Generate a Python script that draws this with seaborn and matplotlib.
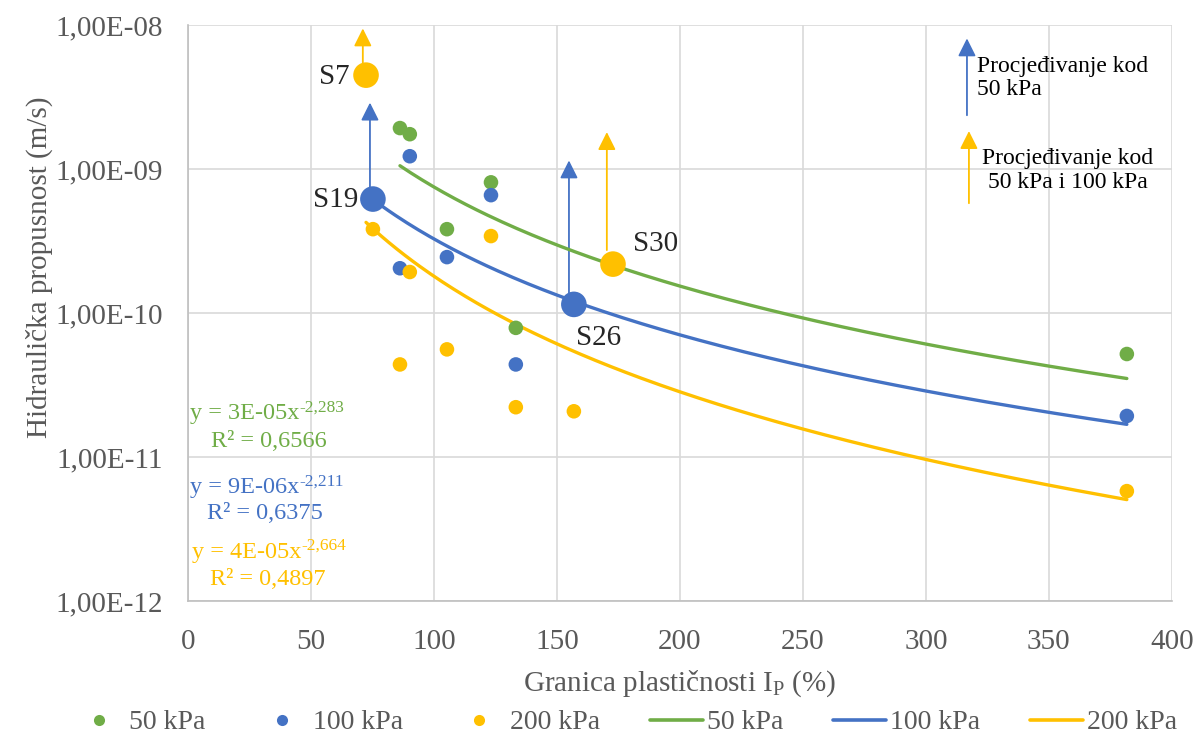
import numpy as np
import pandas as pd
import matplotlib
matplotlib.use("Agg")
import matplotlib.pyplot as plt
from matplotlib.lines import Line2D
from matplotlib.ticker import FixedLocator, FuncFormatter, LogLocator, NullFormatter
import seaborn as sns

# ========== DATA ==========
ip_50 = [86.2, 90.2, 105.3, 123.2, 133.3, 381.7]
k_50 = [1.93e-9, 1.75e-9, 3.83e-10, 8.1e-10, 7.9e-11, 5.2e-11]

ip_100 = [75.2, 86.2, 90.2, 105.3, 123.2, 133.3, 156.9, 381.7]
k_100 = [6.2e-10, 2.05e-10, 1.23e-9, 2.45e-10, 6.6e-10, 4.4e-11, 1.15e-10, 1.93e-11]

ip_200 = [72.4, 75.2, 86.2, 90.2, 105.3, 123.2, 133.3, 156.9, 172.8, 381.7]
k_200 = [4.5e-9, 3.83e-10, 4.4e-11, 1.93e-10, 5.6e-11, 3.43e-10, 2.22e-11, 2.08e-11, 2.19e-10, 5.8e-12]

series_names = ["50 kPa", "100 kPa", "200 kPa"]
colors = ["#70AD47", "#4472C4", "#FFC000"]

# highlighted samples
samples = ["S7", "S19", "S26", "S30"]
sample_series = ["200 kPa", "100 kPa", "100 kPa", "200 kPa"]
sample_ip = [72.4, 75.2, 156.9, 172.8]
sample_k = [4.5e-9, 6.2e-10, 1.15e-10, 2.19e-10]

eq_base = ["y = 3E-05x", "y = 9E-06x", "y = 4E-05x"]
eq_exp = ["-2,283", "-2,211", "-2,664"]
r2_text = ["R² = 0,6566", "R² = 0,6375", "R² = 0,4897"]

x_ticks = [0, 50, 100, 150, 200, 250, 300, 350, 400]

# ========== STYLE ==========
sns.set_theme(style="white")
plt.rcParams["font.family"] = ["Liberation Serif", "DejaVu Serif"]
plt.rcParams["mathtext.fontset"] = "custom"
plt.rcParams["mathtext.rm"] = "Liberation Serif"
plt.rcParams["mathtext.it"] = "Liberation Serif:italic"

grid_c = "#D9D9D9"
text_c = "#595959"

df = pd.concat([
    pd.DataFrame({"ip": ip_50, "k": k_50, "p": "50 kPa"}),
    pd.DataFrame({"ip": ip_100, "k": k_100, "p": "100 kPa"}),
    pd.DataFrame({"ip": ip_200, "k": k_200, "p": "200 kPa"}),
], ignore_index=True)
big = pd.DataFrame({"ip": sample_ip, "k": sample_k, "p": sample_series, "name": samples})
small = df.merge(big[["ip", "k", "p"]], how="left", indicator=True)
small = small[small["_merge"] == "left_only"]

# power-law trend lines (fit in log space, like Excel)
trend_rows = []
for name in series_names:
    sub = df[df["p"] == name]
    b, loga = np.polyfit(np.log(sub["ip"]), np.log(sub["k"]), 1)
    xs = np.linspace(sub["ip"].min(), sub["ip"].max(), 200)
    trend_rows.append(pd.DataFrame({"ip": xs, "k": np.exp(loga) * xs ** b, "p": name}))
trend = pd.concat(trend_rows, ignore_index=True)

pal = dict(zip(series_names, colors))

fig, ax = plt.subplots(figsize=(11.97, 7.42), dpi=100)
fig.subplots_adjust(left=0.157, right=0.979, top=0.966, bottom=0.190)

sns.lineplot(data=trend, x="ip", y="k", hue="p", palette=pal, lw=2.4,
             legend=False, ax=ax, zorder=3)
sns.scatterplot(data=small, x="ip", y="k", hue="p", palette=pal, s=110,
                linewidth=0, legend=False, ax=ax, zorder=4)
sns.scatterplot(data=big, x="ip", y="k", hue="p", palette=pal, s=340,
                linewidth=0, legend=False, ax=ax, zorder=5)

ax.set_yscale("log")
ax.set_xlim(0, 400)
ax.set_ylim(1e-12, 1e-8)
ax.xaxis.set_major_locator(FixedLocator(x_ticks))
ax.yaxis.set_major_locator(LogLocator(base=10, numticks=10))
ax.yaxis.set_minor_locator(LogLocator(base=10, subs=np.arange(2, 10), numticks=10))
ax.yaxis.set_minor_formatter(NullFormatter())
ax.yaxis.set_major_formatter(FuncFormatter(lambda v, p: f"{v:.2E}".replace(".", ",")))

ax.grid(True, which="major", color=grid_c, lw=1.2)
for s in ["top", "right"]:
    ax.spines[s].set_visible(False)
for s in ["left", "bottom"]:
    ax.spines[s].set_color("#BFBFBF")
    ax.spines[s].set_linewidth(1.2)

ax.tick_params(axis="x", length=0, pad=20, labelsize=21, labelcolor=text_c)
ax.tick_params(axis="y", which="both", direction="in", length=5, width=1,
               color="#BFBFBF", pad=18, labelsize=21, labelcolor=text_c)
ax.set_xlabel("Granica plastičnosti I$_{\\mathregular{P}}$ (%)", fontsize=21,
              color=text_c, labelpad=10)
ax.set_ylabel("Hidraulička propusnost (m/s)", fontsize=21, color=text_c, labelpad=14)
ax.yaxis.set_label_coords(-0.137, 0.58)

# ========== ANNOTATIONS ==========
def up_arrow(x, y0, y1, c):
    ax.annotate("", xy=(x, y1), xytext=(x, y0),
                arrowprops=dict(arrowstyle="-|>,head_length=0.6,head_width=0.3",
                                color=c, lw=1.3, shrinkA=0, shrinkB=0,
                                mutation_scale=18), zorder=2)

up_arrow(71.1, 5.3e-9, 9.5e-9, colors[2])
up_arrow(74.0, 7.1e-10, 2.9e-9, colors[1])
up_arrow(154.9, 1.33e-10, 1.15e-9, colors[1])
up_arrow(170.3, 2.74e-10, 1.81e-9, colors[2])
up_arrow(316.7, 2.37e-9, 8.1e-9, colors[1])
up_arrow(317.5, 5.8e-10, 1.84e-9, colors[2])

ax.text(320.7, 4.3e-9, "Procjeđivanje kod\n50 kPa", fontsize=17, color="black",
        ha="left", va="center", linespacing=1.15)
ax.text(357.7, 9.8e-10, "Procjeđivanje kod\n50 kPa i 100 kPa", fontsize=17,
        color="black", ha="center", va="center", multialignment="center",
        linespacing=1.15)

ax.text(65.9, 4.4e-9, "S7", fontsize=21, ha="right", va="center")
ax.text(69.1, 6.1e-10, "S19", fontsize=21, ha="right", va="center")
ax.text(180.9, 3.0e-10, "S30", fontsize=21, ha="left", va="center")
ax.text(157.7, 6.7e-11, "S26", fontsize=21, ha="left", va="center")

eq_pos = [(0.8, 2.02e-11), (0.8, 6.19e-12), (1.6, 2.19e-12)]
r2_pos = [(9.3, 1.29e-11), (7.7, 4.08e-12), (8.9, 1.4e-12)]
for i in range(3):
    t = ax.text(*eq_pos[i], eq_base[i], fontsize=17.5, color=colors[i],
                ha="left", va="center")
    ax.annotate(eq_exp[i], xy=(1.0, 0.78), xycoords=t, fontsize=12.5,
                color=colors[i], ha="left", va="center")
    ax.text(*r2_pos[i], r2_text[i], fontsize=17.5, color=colors[i], ha="left", va="center")

# ========== LEGEND ==========
handles = [Line2D([], [], ls="", marker="o", ms=8, mec="none", mfc=c) for c in colors]
handles += [Line2D([], [], color=c, lw=2.6) for c in colors]
labels = series_names + series_names
fig.legend(handles, labels, loc="center", bbox_to_anchor=(0.522, 0.026), ncol=6,
           frameon=False, fontsize=20, handlelength=1.9, handletextpad=0.15,
           columnspacing=1.8, labelcolor=text_c, borderpad=0.1)

fig.savefig("out.png", dpi=100)
